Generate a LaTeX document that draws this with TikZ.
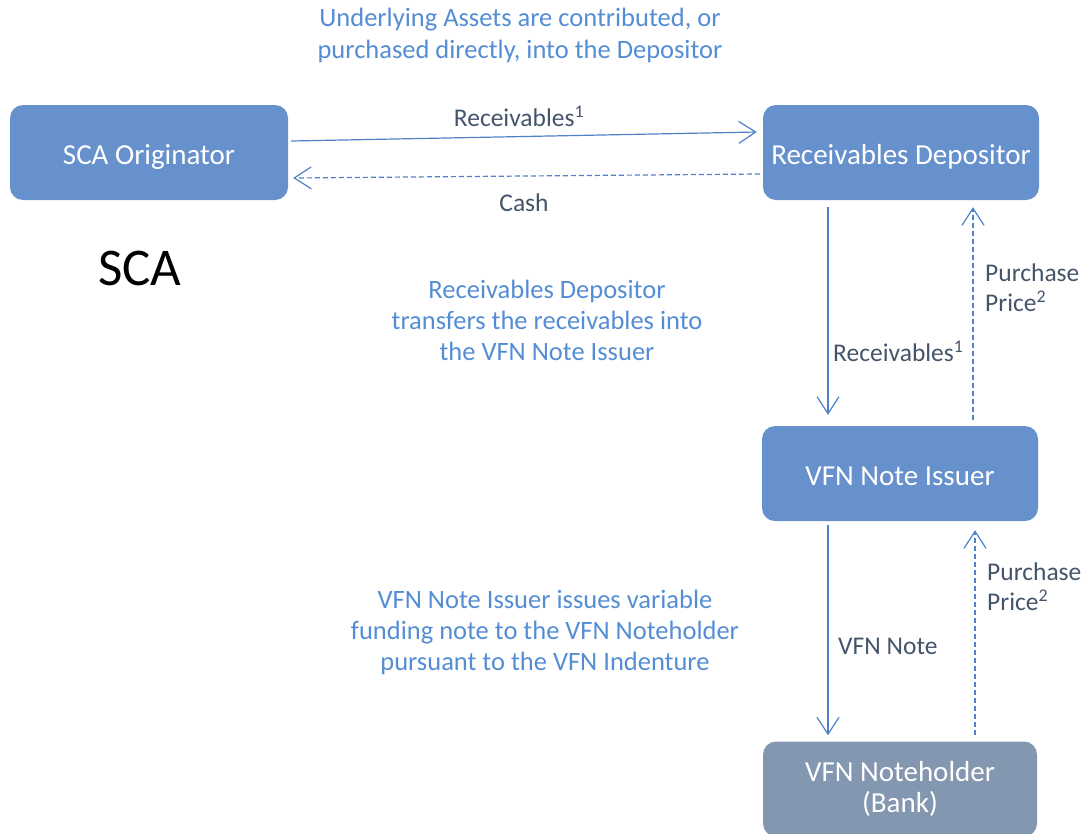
\documentclass[tikz,border=0pt]{standalone}
\usepackage{fontspec}
\setmainfont{Carlito}
\usetikzlibrary{arrows.meta}
\definecolor{boxblue}{RGB}{102,145,204}
\definecolor{boxgray}{RGB}{132,151,176}
\definecolor{linecol}{RGB}{79,129,200}
\definecolor{labcol}{RGB}{68,84,106}
\definecolor{notecol}{RGB}{84,141,212}
\tikzset{
  entity/.style={rectangle, rounded corners=13pt, fill=boxblue, text=white,
    minimum width=277pt, minimum height=95pt, align=center, inner sep=0pt,
    font=\fontsize{29}{31}\selectfont},
  oneline/.style={text height=23.5pt, text depth=0pt},
  flow/.style={draw=linecol, line width=1.2pt, -{Straight Barb[length=17pt,width=22pt,line width=1.2pt]}},
  payflow/.style={flow, dash pattern=on 5pt off 3pt},
  lab/.style={text=labcol, font=\fontsize{25.5}{30}\selectfont, align=left, inner sep=0pt},
  note/.style={text=notecol, font=\fontsize{26.5}{31}\selectfont, align=center, inner sep=0pt}
}
\begin{document}
\begin{tikzpicture}[x=1pt,y=-1pt]
\useasboundingbox (0,0) rectangle (1086,833);
\begin{scope}
\clip (0,0) rectangle (1086,833);
\node[entity, oneline, minimum width=278pt] (orig) at (149,152.5) {SCA Originator};
\node[entity, oneline, minimum width=276pt] (dep) at (901,152.5) {Receivables Depositor};
\node[entity, oneline, minimum width=276pt] (iss) at (900,473.5) {VFN Note Issuer};
\node[entity, minimum width=274pt, fill=boxgray] (nh) at (900,789) {VFN Noteholder\\(Bank)};
\end{scope}

\node[note, font=\fontsize{26.5}{32}\selectfont] (n1) at (520,35) {Underlying Assets are contributed, or\\purchased directly, into the Depositor};
\node[note] (n2) at (547,320) {Receivables Depositor\\transfers the receivables into\\the VFN Note Issuer};
\node[note] (n3) at (545,632) {VFN Note Issuer issues variable\\funding note to the VFN Noteholder\\pursuant to the VFN Indenture};
\node[font=\fontsize{53}{60}\selectfont, inner sep=0pt] (sca) at (140,268) {SCA};

\draw[flow] ([xshift=3pt,yshift=11.5pt]orig.east) -- ([xshift=-6pt,yshift=20.5pt]dep.west);
\draw[payflow] ([xshift=-3pt,yshift=-21.5pt]dep.west) -- ([xshift=5pt,yshift=-25.5pt]orig.east);
\draw[flow] ([xshift=-73pt,yshift=-7pt]dep.south) -- ([xshift=-72pt,yshift=11pt]iss.north);
\draw[payflow] ([xshift=73pt,yshift=6pt]iss.north) -- ([xshift=72pt,yshift=-7pt]dep.south);
\draw[flow] ([xshift=-72pt,yshift=-4pt]iss.south) -- ([xshift=-72pt,yshift=6pt]nh.north);
\draw[payflow] ([xshift=75pt,yshift=6pt]nh.north) -- ([xshift=75pt,yshift=-9pt]iss.south);

\node[lab, anchor=center] (l1) at (519,116) {Receivables\textsuperscript{1}};
\node[lab, anchor=center] (l2) at (524,203) {Cash};
\node[lab, anchor=west] (l3) at (833,351) {Receivables\textsuperscript{1}};
\node[lab, anchor=west] (l4) at (985,288) {Purchase\\Price\textsuperscript{2}};
\node[lab, anchor=west] (l5) at (838,646) {VFN Note};
\node[lab, anchor=west] (l6) at (987,587) {Purchase\\Price\textsuperscript{2}};
\end{tikzpicture}
\end{document}
